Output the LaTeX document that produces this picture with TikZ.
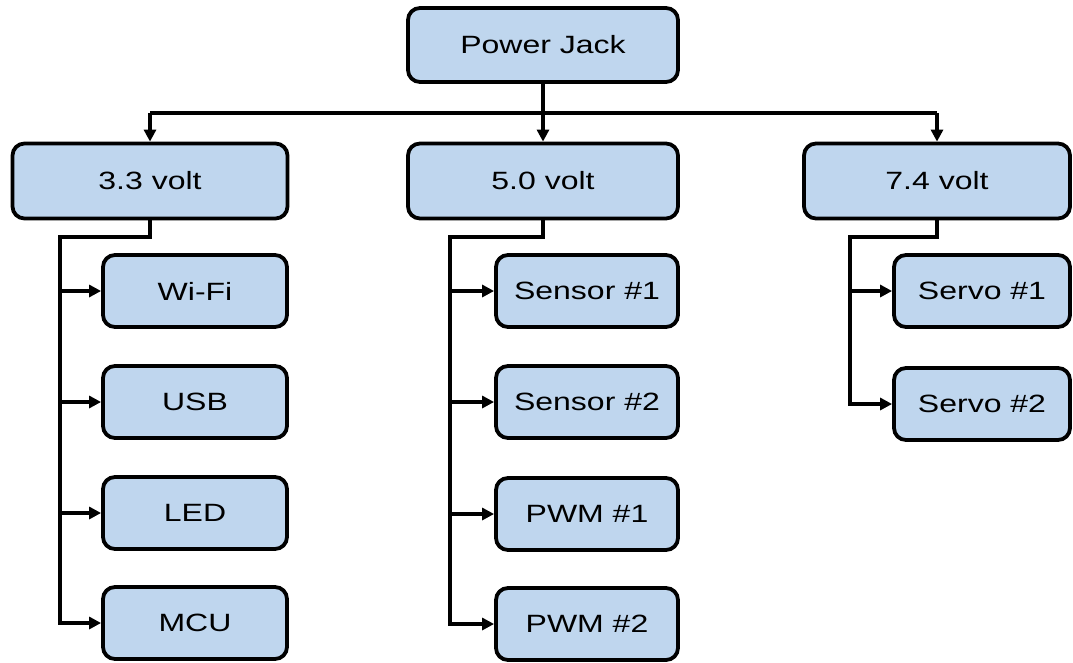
\documentclass[tikz,border=0pt]{standalone}
\usepackage{fontspec}
\setmainfont[FakeStretch=1.28]{Liberation Sans}
\usetikzlibrary{arrows.meta}
\definecolor{boxfill}{RGB}{191,214,238}
\tikzset{
  box/.style={draw=black, line width=3.8pt, fill=boxfill, rounded corners=12pt,
    minimum height=72pt, inner sep=0pt, font=\fontsize{25}{28}\selectfont},
  wire/.style={line width=3.8pt, -{Triangle[length=12pt,width=12pt]}},
  plain/.style={line width=3.8pt},
}
\begin{document}
\begin{tikzpicture}[x=1pt,y=-1pt]
\useasboundingbox (0,0) rectangle (1073,662);
% top
\node[box, minimum width=270pt, minimum height=74pt] (pj) at (543,45) {Power Jack};
\node[box, minimum width=275pt, minimum height=75pt] (v33) at (150,181) {3.3 volt};
\node[box, minimum width=270pt, minimum height=75pt] (v50) at (543,181) {5.0 volt};
\node[box, minimum width=266pt, minimum height=75pt] (v74) at (937,181) {7.4 volt};
% 3.3 column
\node[box, minimum width=184pt] (wifi) at (195,291) {Wi-Fi};
\node[box, minimum width=184pt] (usb) at (195,402) {USB};
\node[box, minimum width=184pt] (led) at (195,513) {LED};
\node[box, minimum width=184pt] (mcu) at (195,623) {MCU};
% 5.0 column
\node[box, minimum width=182pt] (s1) at (587,291) {Sensor \#1};
\node[box, minimum width=182pt] (s2) at (587,402) {Sensor \#2};
\node[box, minimum width=182pt] (p1) at (587,514) {PWM \#1};
\node[box, minimum width=182pt] (p2) at (587,624) {PWM \#2};
% 7.4 column
\node[box, minimum width=176pt] (sv1) at (982,291) {Servo \#1};
\node[box, minimum width=176pt] (sv2) at (982,404) {Servo \#2};
% bus
\coordinate (bus) at (543,113);
\coordinate (busL) at (150,113);
\coordinate (busR) at (937,113);
\draw[plain] (pj.south) -- (bus);
\draw[plain] (busL) -- (busR);
\draw[wire] (busL) -- (v33.north);
\draw[wire] (bus) -- (v50.north);
\draw[wire] (busR) -- (v74.north);
% 3.3 branches
\coordinate (b33) at (60,237);
\draw[wire] (v33.south) |- (b33) |- (mcu.west);
\draw[wire] (b33 |- wifi.west) -- (wifi.west);
\draw[wire] (b33 |- usb.west) -- (usb.west);
\draw[wire] (b33 |- led.west) -- (led.west);
% 5.0 branches
\coordinate (b50) at (450,237);
\draw[wire] (v50.south) |- (b50) |- (p2.west);
\draw[wire] (b50 |- s1.west) -- (s1.west);
\draw[wire] (b50 |- s2.west) -- (s2.west);
\draw[wire] (b50 |- p1.west) -- (p1.west);
% 7.4 branches
\coordinate (b74) at (850,237);
\draw[wire] (v74.south) |- (b74) |- (sv2.west);
\draw[wire] (b74 |- sv1.west) -- (sv1.west);
\end{tikzpicture}
\end{document}
